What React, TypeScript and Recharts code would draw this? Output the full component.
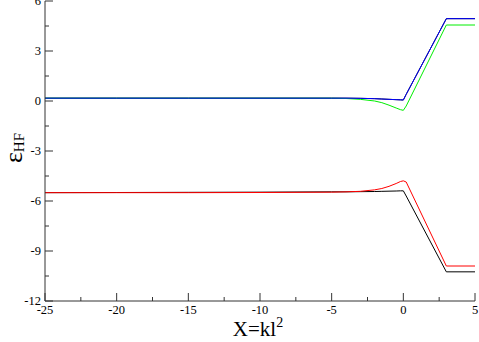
import React from "react";
import { LineChart, Line, XAxis, YAxis } from "recharts";

// sample positions along X = kl^2
const xValues = [-25, -20, -15, -10, -5, -4, -3, -2, -1.5, -1, -0.5, -0.2, 0, 0.2, 3, 5];

// Hartree-Fock energies
const blueUpper = [0.17, 0.17, 0.17, 0.17, 0.17, 0.17, 0.16, 0.14, 0.12, 0.1, 0.08, 0.07, 0.06, 0.4, 4.94, 4.94];
const blackUpper = [0.17, 0.17, 0.17, 0.17, 0.17, 0.17, 0.16, 0.14, 0.12, 0.1, 0.08, 0.07, 0.06, 0.4, 4.94, 4.94];
const greenUpper = [0.17, 0.17, 0.17, 0.17, 0.17, 0.15, 0.1, 0.0, -0.1, -0.25, -0.42, -0.52, -0.56, -0.3, 4.56, 4.56];
const redLower = [-5.5, -5.5, -5.5, -5.49, -5.47, -5.45, -5.42, -5.33, -5.25, -5.12, -4.95, -4.83, -4.79, -4.86, -9.9, -9.9];
const blackLower = [-5.5, -5.49, -5.48, -5.47, -5.45, -5.45, -5.44, -5.43, -5.42, -5.41, -5.4, -5.39, -5.39, -5.7, -10.25, -10.25];

const xTicks = [-25, -22.5, -20, -17.5, -15, -12.5, -10, -7.5, -5, -2.5, 0, 2.5, 5];
const yTicks = [-12, -10.5, -9, -7.5, -6, -4.5, -3, -1.5, 0, 1.5, 3, 4.5, 6];

const data = xValues.map((x, i) => ({
  x,
  blue: blueUpper[i],
  blackUp: blackUpper[i],
  green: greenUpper[i],
  red: redLower[i],
  blackLow: blackLower[i],
}));

const FONT = "'Liberation Serif', 'Times New Roman', Times, serif";
const AXIS = "#333";

function BottomTick({ x, y, payload }: any) {
  const major = payload.value % 5 === 0;
  return (
    <g>
      <line x1={x} x2={x} y1={y} y2={y - (major ? 8 : 4)} stroke={AXIS} />
      {major && (
        <text x={x} y={y + 13} textAnchor="middle" fontSize={12.5} fontFamily={FONT} fill="#000">
          {payload.value}
        </text>
      )}
    </g>
  );
}

function TopTick({ x, y, payload }: any) {
  const major = payload.value % 5 === 0;
  return <line x1={x} x2={x} y1={y} y2={y + (major ? 8 : 4)} stroke={AXIS} />;
}

function LeftTick({ x, y, payload }: any) {
  const major = payload.value % 3 === 0;
  return (
    <g>
      <line x1={x} x2={x + (major ? 8 : 4)} y1={y} y2={y} stroke={AXIS} />
      {major && (
        <text x={x - 4} y={y + 4} textAnchor="end" fontSize={12.5} fontFamily={FONT} fill="#000">
          {payload.value}
        </text>
      )}
    </g>
  );
}

function RightTick({ x, y, payload }: any) {
  const major = payload.value % 3 === 0;
  return <line x1={x} x2={x - (major ? 8 : 4)} y1={y} y2={y} stroke={AXIS} />;
}

export default function App() {
  return (
    <div style={{ position: "absolute", left: 0, top: 0, width: 479, height: 342, background: "#fff", fontFamily: FONT }}>
      <LineChart width={479} height={342} data={data} margin={{ top: 1, right: 4, left: 0, bottom: 0 }} style={{ fontFamily: FONT }}>
        <XAxis
          xAxisId="bottom"
          dataKey="x"
          type="number"
          domain={[-25, 5]}
          ticks={xTicks}
          interval={0}
          tickSize={0}
          tickMargin={0}
          tickLine={false}
          tick={<BottomTick />}
          height={41}
          axisLine={{ stroke: AXIS }}
        />
        <XAxis
          xAxisId="top"
          orientation="top"
          dataKey="x"
          type="number"
          domain={[-25, 5]}
          ticks={xTicks}
          interval={0}
          tickSize={0}
          tickMargin={0}
          tickLine={false}
          tick={<TopTick />}
          height={0}
          axisLine={{ stroke: AXIS }}
        />
        <YAxis
          yAxisId="left"
          type="number"
          domain={[-12, 6]}
          ticks={yTicks}
          interval={0}
          tickSize={0}
          tickMargin={0}
          tickLine={false}
          tick={<LeftTick />}
          width={45}
          axisLine={{ stroke: AXIS }}
        />
        <YAxis
          yAxisId="right"
          orientation="right"
          type="number"
          domain={[-12, 6]}
          ticks={yTicks}
          interval={0}
          tickSize={0}
          tickMargin={0}
          tickLine={false}
          tick={<RightTick />}
          width={0}
          axisLine={{ stroke: AXIS }}
        />
        <Line xAxisId="bottom" yAxisId="left" type="linear" dataKey="blackUp" stroke="#000" strokeWidth={1} dot={false} isAnimationActive={false} />
        <Line xAxisId="bottom" yAxisId="left" type="linear" dataKey="green" stroke="#00ee00" strokeWidth={1} dot={false} isAnimationActive={false} />
        <Line xAxisId="bottom" yAxisId="left" type="linear" dataKey="blue" stroke="#0000ff" strokeWidth={1} dot={false} isAnimationActive={false} />
        <Line xAxisId="bottom" yAxisId="left" type="linear" dataKey="blackLow" stroke="#000" strokeWidth={1} dot={false} isAnimationActive={false} />
        <Line xAxisId="bottom" yAxisId="left" type="linear" dataKey="red" stroke="#ff0000" strokeWidth={1} dot={false} isAnimationActive={false} />
      </LineChart>
      {/* axis titles */}
      <svg width={479} height={342} style={{ position: "absolute", left: 0, top: 0, pointerEvents: "none" }}>
        <text x={258} y={336} textAnchor="middle" fontSize={21} fontFamily={FONT} fill="#000">
          X=kl<tspan dy={-9} fontSize={14}>2</tspan>
        </text>
        <g transform="translate(22 148) rotate(-90)">
          <text x={0} y={0} textAnchor="middle" fontSize={26} fontFamily={FONT} fill="#000">
            ε<tspan dy={2} fontSize={15}>HF</tspan>
          </text>
        </g>
      </svg>
    </div>
  );
}
